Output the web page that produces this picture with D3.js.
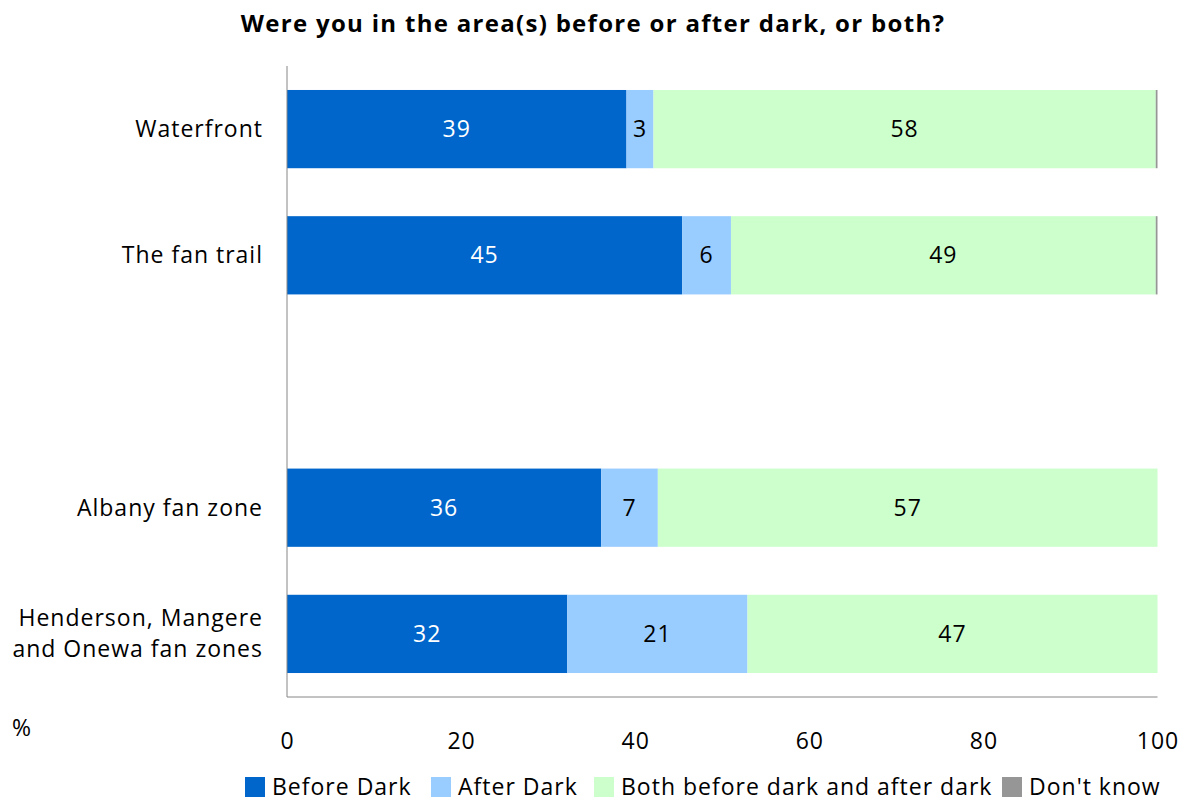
<!DOCTYPE html>
<html><head><meta charset="utf-8">
<script src="https://cdn.jsdelivr.net/npm/d3@7/dist/d3.min.js"></script>
<style>body{margin:0;background:#fff}svg{display:block}text{font-family:"Open Sans",sans-serif;letter-spacing:1px}</style>
</head><body>
<script>
const categories = ["Waterfront", "The fan trail", "", "Albany fan zone", "Henderson, Mangere|and Onewa fan zones"];
const seriesNames = ["Before Dark", "After Dark", "Both before dark and after dark", "Don't know"];
const beforeDark = [39.0, 45.4, null, 36.1, 32.2];
const afterDark = [3.1, 5.6, null, 6.5, 20.7];
const both = [57.7, 48.8, null, 57.4, 47.1];
const dontKnow = [0.2, 0.2, null, 0, 0];
const xTicks = [0, 20, 40, 60, 80, 100];
const colors = ["#0066CC", "#99CCFF", "#CCFFCC", "#969696"];
const labelColors = ["#fff", "#000", "#000", "#000"];

const W = 1187, H = 801;
const FS = 23;
const svg = d3.select("body").append("svg").attr("width", W).attr("height", H);
const m = {l: 287, r: 1157.5, t: 66, b: 697};
const x = d3.scaleLinear().domain([0, 100]).range([m.l, m.r]);
const y = d3.scaleBand().domain(d3.range(categories.length)).range([m.t, m.b]).paddingInner(0.38).paddingOuter(0.19);

svg.append("text").attr("x", 593).attr("y", 32).attr("text-anchor", "middle")
  .attr("font-size", 24).attr("font-weight", "bold").style("letter-spacing", "1.3px")
  .text("Were you in the area(s) before or after dark, or both?");

const series = [beforeDark, afterDark, both, dontKnow];
categories.forEach((c, i) => {
  if (beforeDark[i] == null) return;
  let acc = 0;
  series.forEach((s, k) => {
    const v = s[i];
    const x0 = x(acc), x1 = x(acc + v);
    acc += v;
    if (v <= 0) return;
    svg.append("rect").attr("x", x0).attr("y", y(i)).attr("width", x1 - x0).attr("height", y.bandwidth()).attr("fill", colors[k]);
    if (k < 3) {
      svg.append("text").attr("x", (x0 + x1) / 2).attr("y", y(i) + y.bandwidth() / 2).attr("dy", "0.35em")
        .attr("text-anchor", "middle").attr("font-size", FS).attr("fill", labelColors[k]).text(Math.round(v));
    }
  });
  const lines = c.split("|");
  const t = svg.append("text").attr("text-anchor", "end").attr("font-size", FS).attr("fill", "#000");
  lines.forEach((ln, j) => {
    t.append("tspan").attr("x", 263).attr("y", y(i) + y.bandwidth() / 2 + (j - (lines.length - 1) / 2) * 31).attr("dy", "0.35em").text(ln);
  });
});

// axes lines
svg.append("line").attr("x1", m.l).attr("x2", m.l).attr("y1", m.t).attr("y2", m.b).attr("stroke", "#868686").attr("stroke-width", 1);
svg.append("line").attr("x1", m.l).attr("x2", m.r).attr("y1", m.b).attr("y2", m.b).attr("stroke", "#868686").attr("stroke-width", 1);

const xAxis = svg.append("g").attr("transform", `translate(0,${m.b})`)
  .call(d3.axisBottom(x).tickValues(xTicks).tickSize(0).tickPadding(36).tickFormat(d3.format("d")));
xAxis.select(".domain").remove();
xAxis.selectAll("text").attr("font-size", FS).attr("fill", "#000").attr("font-family", "'Open Sans',sans-serif");

svg.append("text").attr("x", 22).attr("y", 736).attr("text-anchor", "middle").attr("font-size", FS).text("%");

// legend
const legX = [245, 431, 594, 1002];
seriesNames.forEach((n, k) => {
  svg.append("rect").attr("x", legX[k]).attr("y", 777).attr("width", 20).attr("height", 20).attr("fill", colors[k]);
  svg.append("text").attr("x", legX[k] + 27).attr("y", 787).attr("dy", "0.35em").attr("font-size", FS).text(n);
});
</script>
</body></html>
